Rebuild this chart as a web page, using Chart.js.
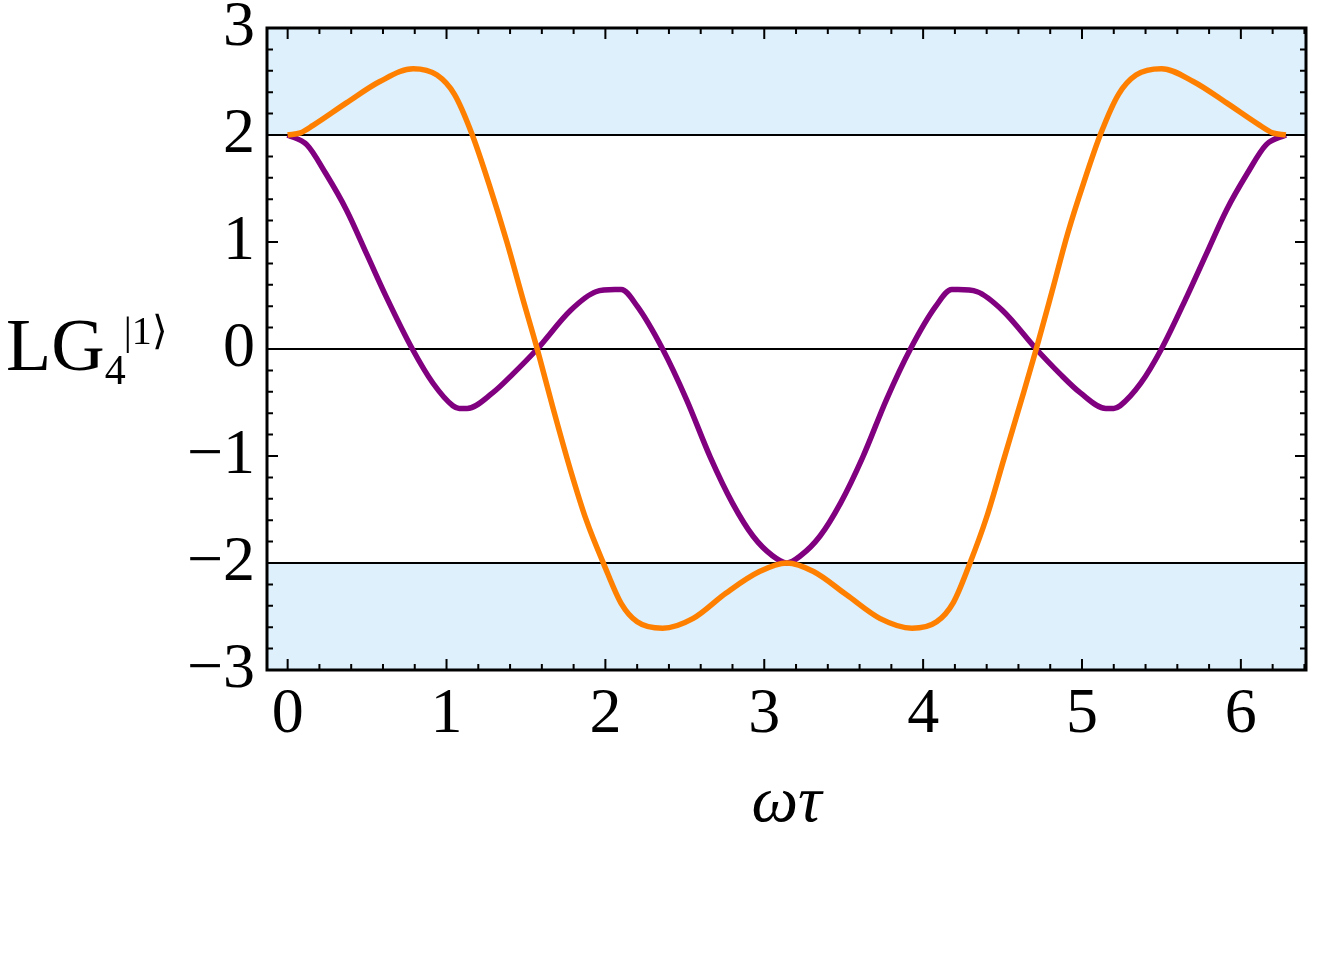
<!DOCTYPE html>
<html>
<head>
<meta charset="utf-8">
<script src="https://cdn.jsdelivr.net/npm/chart.js@4.4.1/dist/chart.umd.min.js"></script>
<style>
  html, body { margin: 0; padding: 0; background: #fff; }
</style>
</head>
<body>
<canvas id="plot" width="1334" height="963"></canvas>
<script>
// values
const orangeTau = [0, 0.08, 0.16, 0.37, 0.58, 0.79, 0.94, 1.05, 1.16, 1.27, 1.38, 1.48, 1.571, 1.67, 1.78, 1.88, 1.99,
  2.10, 2.20, 2.36, 2.55, 2.76, 2.97, 3.1416, 3.31, 3.52, 3.73, 3.93, 4.085, 4.19, 4.295, 4.40, 4.51, 4.62,
  4.712, 4.81, 4.91, 5.01, 5.12, 5.23, 5.34, 5.50, 5.70, 5.91, 6.12, 6.20, 6.283];
const orangeVal = [2.00, 2.02, 2.09, 2.30, 2.50, 2.62, 2.56, 2.38, 2.01, 1.53, 1.00, 0.47, 0.00, -0.55, -1.13, -1.60, -2.01,
  -2.38, -2.55, -2.61, -2.52, -2.28, -2.08, -2.00, -2.08, -2.30, -2.52, -2.61, -2.55, -2.37, -2.00, -1.57, -1.02, -0.47,
  0.00, 0.53, 1.08, 1.55, 2.02, 2.38, 2.56, 2.62, 2.50, 2.30, 2.09, 2.02, 2.00];

const purpleTau = [0, 0.12, 0.24, 0.37, 0.50, 0.62, 0.785, 0.915, 1.04, 1.08, 1.13, 1.29, 1.42, 1.571, 1.78, 1.94,
  2.06, 2.10, 2.20, 2.36, 2.51, 2.66, 2.80, 2.93, 3.05, 3.1416, 3.23, 3.35, 3.48, 3.62, 3.77, 3.92, 4.08, 4.18,
  4.22, 4.34, 4.50, 4.712, 4.86, 4.99, 5.15, 5.20, 5.24, 5.37, 5.50, 5.66, 5.78, 5.91, 6.04, 6.16, 6.283];
const purpleVal = [2.00, 1.91, 1.64, 1.30, 0.88, 0.49, 0.00, -0.32, -0.53, -0.555, -0.555, -0.41, -0.23, 0.00, 0.36, 0.535,
  0.555, 0.555, 0.40, 0.00, -0.47, -1.01, -1.44, -1.75, -1.93, -2.00, -1.93, -1.75, -1.44, -1.01, -0.47, 0.00, 0.40, 0.555,
  0.555, 0.535, 0.36, 0.00, -0.23, -0.41, -0.555, -0.555, -0.53, -0.32, 0.00, 0.49, 0.88, 1.30, 1.64, 1.91, 2.00];

const xTicks = [0, 1, 2, 3, 4, 5, 6];
const yTicks = [-3, -2, -1, 0, 1, 2, 3];
const xRange = [-0.13, 6.41];
const yRange = [-3, 3];
const refLevels = [2, 0, -2];

const serif = '"Liberation Serif", "Times New Roman", serif';
const bandBlue = 'rgb(222, 240, 251)';

function toPoints(xs, ys) {
  return xs.map((v, i) => ({ x: v, y: ys[i] }));
}
function levelLine(level) {
  return [{ x: xRange[0], y: level }, { x: xRange[1], y: level }];
}
function fmt(v) {
  return v < 0 ? '\u2212' + Math.abs(v) : String(v);
}

// frame, inward ticks on all four sides, and the y label
const framePlugin = {
  id: 'frame',
  afterDatasetsDraw(chart) {
    const { ctx, chartArea: a, scales: { x, y } } = chart;
    ctx.save();
    ctx.strokeStyle = '#000';
    ctx.lineWidth = 2;
    ctx.beginPath();
    for (let i = 0; i <= 32; i++) {
      const px = x.getPixelForValue(i * 0.2);
      const len = i % 5 === 0 ? 11 : 6;
      ctx.moveTo(px, a.bottom); ctx.lineTo(px, a.bottom - len);
      ctx.moveTo(px, a.top); ctx.lineTo(px, a.top + len);
    }
    for (let i = -15; i <= 15; i++) {
      const py = y.getPixelForValue(i * 0.2);
      const len = i % 5 === 0 ? 11 : 6;
      ctx.moveTo(a.left, py); ctx.lineTo(a.left + len, py);
      ctx.moveTo(a.right, py); ctx.lineTo(a.right - len, py);
    }
    ctx.stroke();
    ctx.lineWidth = 3;
    ctx.strokeRect(a.left, a.top, a.right - a.left, a.bottom - a.top);
    ctx.restore();
  },
  afterDraw(chart) {
    const { ctx } = chart;
    ctx.save();
    ctx.fillStyle = '#000';
    ctx.textBaseline = 'alphabetic';
    ctx.textAlign = 'left';
    ctx.font = '74px ' + serif;
    ctx.fillText('LG', 6, 370);
    let w = 6 + ctx.measureText('LG').width;
    ctx.font = '42px ' + serif;
    ctx.fillText('4', w, 384);
    w += ctx.measureText('4').width;
    ctx.font = '40px ' + serif;
    ctx.fillText('|1\u27E9', w - 2, 344);
    ctx.restore();
  }
};

new Chart(document.getElementById('plot'), {
  type: 'line',
  data: {
    datasets: [
      {
        label: 'purple',
        data: toPoints(purpleTau, purpleVal),
        borderColor: 'rgb(128, 0, 128)',
        borderWidth: 5.5,
        pointRadius: 0,
        cubicInterpolationMode: 'monotone',
        fill: false,
        order: 1
      },
      {
        label: 'orange',
        data: toPoints(orangeTau, orangeVal),
        borderColor: 'rgb(255, 128, 0)',
        borderWidth: 5.5,
        pointRadius: 0,
        cubicInterpolationMode: 'monotone',
        fill: false,
        order: 0
      },
      {
        label: 'upper',
        data: levelLine(refLevels[0]),
        borderColor: '#000',
        borderWidth: 2,
        pointRadius: 0,
        backgroundColor: bandBlue,
        fill: 'end',
        order: 5
      },
      {
        label: 'zero',
        data: levelLine(refLevels[1]),
        borderColor: '#000',
        borderWidth: 2,
        pointRadius: 0,
        fill: false,
        order: 5
      },
      {
        label: 'lower',
        data: levelLine(refLevels[2]),
        borderColor: '#000',
        borderWidth: 2,
        pointRadius: 0,
        backgroundColor: bandBlue,
        fill: 'start',
        order: 5
      }
    ]
  },
  options: {
    responsive: false,
    animation: false,
    devicePixelRatio: 1,
    layout: { padding: { top: 27, right: 28, left: 0, bottom: 0 } },
    plugins: { legend: { display: false }, tooltip: { enabled: false } },
    scales: {
      x: {
        type: 'linear',
        min: xRange[0],
        max: xRange[1],
        afterBuildTicks: s => { s.ticks = xTicks.map(v => ({ value: v })); },
        afterFit: s => { s.height = 293; },
        grid: { display: false, drawTicks: false },
        border: { display: false },
        ticks: { color: '#000', padding: 7, font: { family: serif, size: 64 }, callback: fmt, maxRotation: 0 },
        title: {
          display: true,
          text: '\u03C9\u03C4',
          color: '#000',
          font: { family: serif, size: 66, style: 'italic' },
          padding: { top: 0, bottom: 120 }
        }
      },
      y: {
        type: 'linear',
        min: yRange[0],
        max: yRange[1],
        afterBuildTicks: s => { s.ticks = yTicks.map(v => ({ value: v })); },
        afterFit: s => { s.width = 267; },
        grid: { display: false, drawTicks: false },
        border: { display: false },
        ticks: { color: '#000', padding: 12, font: { family: serif, size: 64, lineHeight: 0.5 }, callback: fmt }
      }
    }
  },
  plugins: [framePlugin]
});
</script>
</body>
</html>
